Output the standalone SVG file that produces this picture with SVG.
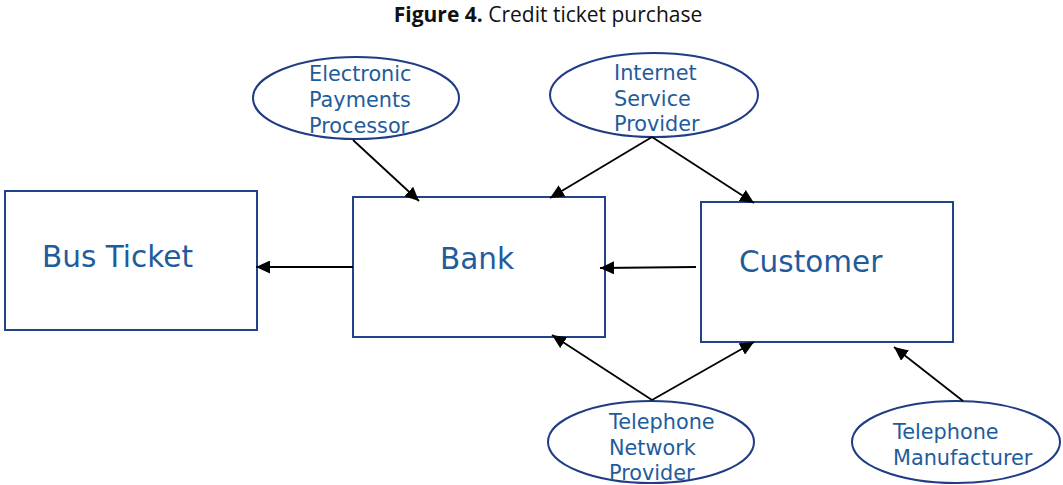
<svg xmlns="http://www.w3.org/2000/svg" width="1063" height="485" viewBox="0 0 1063 485">
<defs>
<style>
.box{fill:#fff;stroke:#22428a;stroke-width:2}
.ell{fill:#fff;stroke:#1f3c85;stroke-width:2}
.lbl{font-family:"DejaVu Sans",Verdana,sans-serif;fill:#1f5c9c}
.big{font-size:29.5px}
.sm{font-size:20.8px}
.conn line{stroke:#000;stroke-width:1.8;marker-end:url(#ah)}
.title{font-family:"Open Sans","DejaVu Sans",sans-serif;font-size:21px;fill:#111}
</style>
<marker id="ah" markerUnits="userSpaceOnUse" markerWidth="15" markerHeight="13" refX="14" refY="6.5" orient="auto">
<path d="M0,0 L14,6.5 L0,13 z" fill="#000"/>
</marker>
</defs>
<rect width="1063" height="485" fill="#fff"/>
<text class="title" x="548" y="22" text-anchor="middle"><tspan font-weight="bold">Figure 4.</tspan> Credit ticket purchase</text>

<g id="bus-ticket">
<rect class="box" x="5" y="191" width="252" height="139"/>
<text class="lbl big" x="42" y="267">Bus Ticket</text>
</g>
<g id="bank">
<rect class="box" x="353" y="197" width="252" height="140"/>
<text class="lbl big" x="440" y="269">Bank</text>
</g>
<g id="customer">
<rect class="box" x="701" y="202" width="252" height="140"/>
<text class="lbl big" x="739" y="272">Customer</text>
</g>
<g id="epp">
<ellipse class="ell" cx="356" cy="98" rx="103" ry="41"/>
<text class="lbl sm"><tspan x="309" y="81">Electronic</tspan><tspan x="309" y="107">Payments</tspan><tspan x="309" y="133">Processor</tspan></text>
</g>
<g id="isp">
<ellipse class="ell" cx="654" cy="95" rx="104" ry="42"/>
<text class="lbl sm"><tspan x="614" y="80">Internet</tspan><tspan x="614" y="106">Service</tspan><tspan x="614" y="131">Provider</tspan></text>
</g>
<g id="tnp">
<ellipse class="ell" cx="651" cy="442" rx="103" ry="41"/>
<text class="lbl sm"><tspan x="609" y="429">Telephone</tspan><tspan x="609" y="455">Network</tspan><tspan x="609" y="480">Provider</tspan></text>
</g>
<g id="tm">
<ellipse class="ell" cx="956" cy="442" rx="104" ry="41"/>
<text class="lbl sm"><tspan x="893" y="439">Telephone</tspan><tspan x="893" y="465">Manufacturer</tspan></text>
</g>

<g id="connectors" class="conn">
<line x1="353" y1="267" x2="256" y2="267"/>
<line x1="696" y1="267" x2="600" y2="268"/>
<line x1="353" y1="140" x2="419" y2="201"/>
<line x1="652" y1="137" x2="550" y2="198"/>
<line x1="652" y1="137" x2="754" y2="203"/>
<line x1="652" y1="400" x2="552" y2="335"/>
<line x1="652" y1="400" x2="754" y2="342"/>
<line x1="963" y1="401" x2="894" y2="347"/>
</g>
</svg>
